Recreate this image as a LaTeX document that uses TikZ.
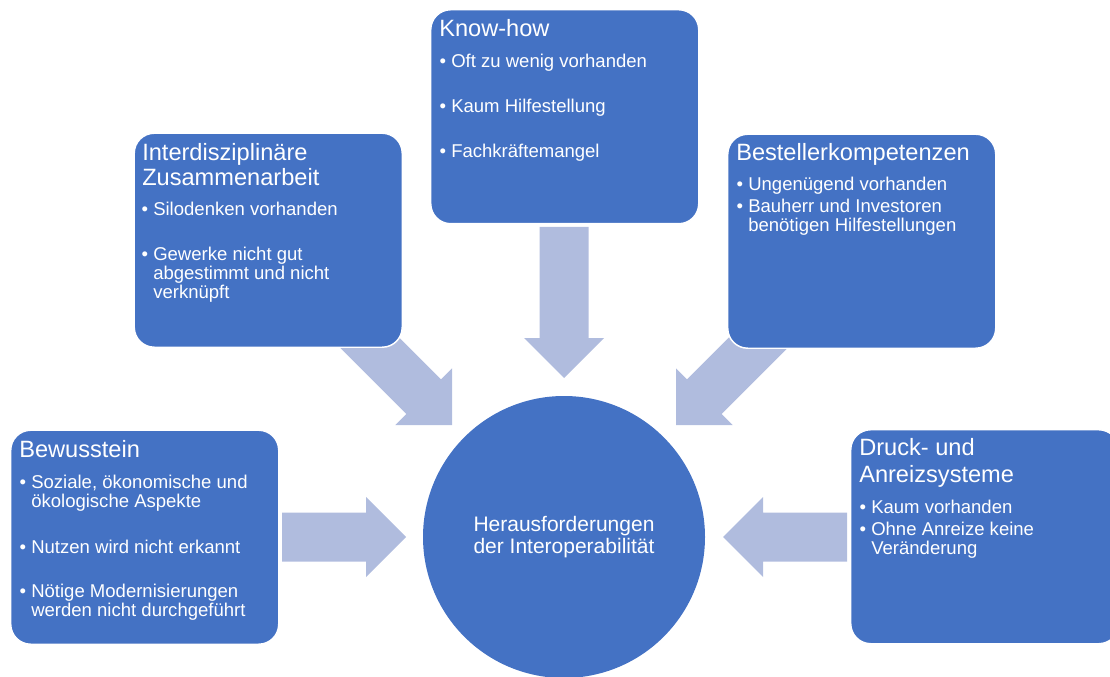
\documentclass[tikz,border=0pt]{standalone}
\usepackage{fontspec}
\setmainfont{Liberation Sans}
\definecolor{boxblue}{HTML}{4472C4}
\definecolor{arrowblue}{HTML}{B0BCDE}
\newcommand{\itembullet}{\llap{\textbullet\hspace{3.8pt}}}
\begin{document}
\begin{tikzpicture}[x=0.75pt,y=-0.75pt,
  infobox/.style={rectangle, rounded corners=15pt, fill=boxblue, draw=white,
    line width=1.1pt, inner sep=0pt, minimum width=201pt, minimum height=160.5pt,
    anchor=north west},
  hub/.style={circle, fill=boxblue, inner sep=0pt, minimum size=211.5pt,
    text=white, align=center, font=\fontsize{15.75pt}{15.9pt}\selectfont},
  ttl/.style={text=white, inner sep=0pt, anchor=base west,
    font=\fontsize{17.7pt}{19.5pt}\selectfont},
  itm/.style={text=white, inner sep=0pt, anchor=base west,
    font=\fontsize{13.9pt}{14.25pt}\selectfont},
  blockarrow/.style={fill=arrowblue, draw=none}]
\useasboundingbox (0,0) rectangle (1110,677);

% block arrows (drawn first, boxes cover their tails)
\fill[blockarrow] (282,512.5) -- (366,512.5) -- (366,497) -- (406,537) -- (366,577) -- (366,561.5) -- (282,561.5) -- cycle;
\fill[blockarrow] (847,512.5) -- (763,512.5) -- (763,497) -- (723,537) -- (763,577) -- (763,561.5) -- (847,561.5) -- cycle;
\fill[blockarrow] (539.5,227) -- (588.5,227) -- (588.5,338) -- (604,338) -- (564,378) -- (524,338) -- (539.5,338) -- cycle;
\fill[blockarrow] (370.3,308.7) -- (441,379.4) -- (452,368.4) -- (452,425) -- (395.4,425) -- (406.4,414) -- (335.7,343.3) -- cycle;
\fill[blockarrow] (757.7,308.7) -- (687,379.4) -- (676,368.4) -- (676,425) -- (732.6,425) -- (721.6,414) -- (792.3,343.3) -- cycle;

% centre
\node[hub] (center) at (564,537) {Herausforderungen\\der Interoperabilität};

% boxes
\node[infobox] (ib) at (133.5,132.5) {};
\node[infobox] (kb) at (430,9) {};
\node[infobox] (bb) at (727,133.5) {};
\node[infobox] (wb) at (10,429.5) {};
\node[infobox] (db) at (850,429) {};

% Bewusstein
\node[ttl] (wt) at (19,457) {Bewusstein};
\node[itm] (w1) at (31,488) {\itembullet Soziale, ökonomische und};
\node[itm] (w1b) at (31,507) {ökologische Aspekte};
\node[itm] (w2) at (31,553) {\itembullet Nutzen wird nicht erkannt};
\node[itm] (w3) at (31,597) {\itembullet Nötige Modernisierungen};
\node[itm] (w3b) at (31,616) {werden nicht durchgeführt};

% Know-how
\node[ttl] (kt) at (439,37) {Know-how};
\node[itm] (k1) at (451,68) {\itembullet Oft zu wenig vorhanden};
\node[itm] (k2) at (451,113) {\itembullet Kaum Hilfestellung};
\node[itm] (k3) at (451,158) {\itembullet Fachkräftemangel};

% Interdisziplinaere Zusammenarbeit
\node[ttl] (it1) at (142,161) {Interdisziplinäre};
\node[ttl] (it2) at (142,186) {Zusammenarbeit};
\node[itm] (i1) at (153,216) {\itembullet Silodenken vorhanden};
\node[itm] (i2) at (153,261) {\itembullet Gewerke nicht gut};
\node[itm] (i2b) at (153,280) {abgestimmt und nicht};
\node[itm] (i2c) at (153,299) {verknüpft};

% Bestellerkompetenzen
\node[ttl] (bt) at (736,161) {Bestellerkompetenzen};
\node[itm] (b1) at (748,191) {\itembullet Ungenügend vorhanden};
\node[itm] (b2) at (748,213) {\itembullet Bauherr und Investoren};
\node[itm] (b2b) at (748,232) {benötigen Hilfestellungen};

% Druck- und Anreizsysteme
\node[ttl] (dt1) at (859,455) {Druck- und};
\node[ttl] (dt2) at (859,482) {Anreizsysteme};
\node[itm] (d1) at (871,513) {\itembullet Kaum vorhanden};
\node[itm] (d2) at (871,535) {\itembullet Ohne Anreize keine};
\node[itm] (d2b) at (871,554) {Veränderung};
\end{tikzpicture}
\end{document}
